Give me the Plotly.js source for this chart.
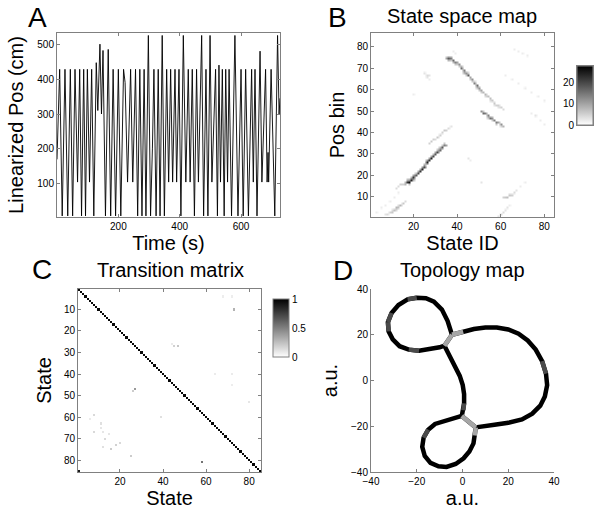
<!DOCTYPE html>
<html><head><meta charset="utf-8">
<script src="https://cdn.plot.ly/plotly-3.0.1.min.js"></script>
<style>html,body{margin:0;padding:0;background:#fff}#chart{width:600px;height:522px}</style>
</head><body><div id="chart"></div>
<script>
// ---------- Panel A: linearized position turning points ----------
const timeTurn = [0,8.7,17,26,35,43.5,51,58.7,67,74,80,87,93,99,106,113,120,128,133,140,145,150,158,167,175,183,191,200,208,217,222,230,240,247,256,263,270,277,284,290,297.8,305,311,316,323,330,336,343,350,357.5,364,370.5,377,384.7,390,397.7,404,411.8,420,428,434,441,448,455,461,471.6,478,485.7,492,499,505,517,523,528,533,539,545,550,556,561,569,580,590,600,607,615,624,634.5,640,645.5,652,662,668,680,685,688,690,698,710,719,724,727];
const posTurn = [170,428,8,428,8,428,8,428,105,428,8,428,8,428,105,428,8,447,310,500,300,482,8,485,8,428,8,428,8,428,390,105,428,105,428,8,428,8,428,8,525,8,200,428,8,428,8,525,8,428,105,428,105,428,105,428,8,525,105,428,105,428,8,428,105,525,8,428,8,525,105,428,8,440,105,428,8,428,105,428,8,525,8,428,8,428,8,428,105,428,8,480,105,428,105,190,105,428,8,525,300,345];

// ---------- Panel B: state space map streaks [state, posBin, count] ----------
const nStatesB = 84, nPosB = 86;
const streakLow = [[16,16,8],[17,17,22],[18,17,26],[19,18,24],[20,19,22],[21,20,18],[22,21,20],[23,22,22],[24,23,24],[25,24,20],[26,26,25],[27,27,22],[28,28,24],[29,29,20],[30,30,18],[31,31,20],[32,32,16],[33,33,18],[34,34,14],[35,34,10],
  [17,18,10],[19,19,8],[21,21,8],[23,23,10],[25,25,12],[27,28,10],[29,30,8],[31,32,8],[33,34,6],[12,14,4],[13,15,4],[14,16,5],[15,16,5],
  [18,18,12],[20,20,10],[22,22,10],[24,24,12],[26,27,12],[28,29,10],[30,31,10],[32,33,8],[34,35,6],[16,17,8],[18,16,6],[20,18,8]];
const streakParallel = [[27,35,5],[28,36,6],[29,37,5],[30,37,4],[31,38,6],[32,39,5],[33,40,5],[34,41,6],[35,41,5],[36,42,4],[37,43,3]];
const streakHigh = [[35,75,10],[36,75,18],[37,75,14],[38,74,16],[39,73,14],[40,73,10],[41,72,12],[42,70,16],[43,69,14],[44,68,12],[45,67,18],[46,66,10],[47,65,12],[48,63,14],[49,62,16],[50,61,12],[51,60,10],[52,59,8],[53,58,8],[54,57,7],[55,56,7],[56,55,6],[57,54,6],[58,53,5],[59,53,5],[60,52,5],[61,51,4],
  [36,74,8],[37,74,6],[39,72,6],[41,71,6],[43,68,8],[44,67,6],[45,68,6],[46,65,6],[48,64,5],[49,61,6],[50,60,6],[40,72,6],
  [38,73,8],[42,71,8],[47,64,6],[51,59,5],[53,57,4],[55,55,4],[57,53,3],[59,52,3]];
const streakMid = [[51,50,12],[52,49,16],[53,49,14],[54,48,14],[55,47,16],[56,47,12],[57,46,14],[58,45,14],[59,45,10],[60,44,12],[61,43,8],
  [52,50,6],[54,47,6],[56,46,6],[58,44,6],[60,43,5]];
const patchLowLeft = [[7,2,3],[8,2,4],[9,3,5],[10,3,6],[11,4,7],[12,5,8],[13,5,7],[14,6,8],[15,7,6],[16,8,4],[10,4,4],[12,4,4],[13,6,4]];
const patchLowRight = [[61,10,5],[62,10,6],[63,10,7],[64,11,6],[65,11,5],[66,12,4],[67,13,3],[69,15,2],[71,17,2],[59,1,3],[60,2,4],[61,3,4],[62,4,3],[63,5,3],[64,6,2]];
const faintB = [[38,78,2],[39,77,2],[66,79,2],[68,78,2],[70,77,2],[72,76,2],[62,67,2],[65,65,2],[68,63,2],[71,61,2],[74,59,2],[77,57,2],[80,55,2],[74,49,2],[76,48,3],[78,46,2],[80,44,2],[45,28,3],[46,27,2],[51,17,3],[25,68,3],[26,67,4],[27,67,3],[26,66,3],[27,65,2],[20,58,2],[3,3,2],[5,5,2],[7,6,2],[9,8,2],[11,10,2],[13,12,2]];
const cmaxB = 28;
const cbarTicksB = [0,10,20];

// ---------- Panel C: transition matrix ----------
const nStatesC = 85;
const selfProb = [0.97,0.98,0.96,0.97,0.98,0.97,0.96,0.98,0.97,0.97,
 0.98,0.96,0.97,0.98,0.97,0.96,0.97,0.98,0.97,0.96,
 0.97,0.98,0.97,0.96,0.98,0.97,0.97,0.96,0.98,0.97,
 0.97,0.98,0.96,0.97,0.98,0.97,0.96,0.97,0.98,0.97,
 0.96,0.97,0.98,0.97,0.96,0.97,0.97,0.98,0.96,0.97,
 0.98,0.97,0.96,0.97,0.98,0.97,0.96,0.97,0.98,0.97,
 0.97,0.96,0.98,0.97,0.97,0.96,0.98,0.97,0.96,0.97,
 0.98,0.97,0.96,0.97,0.98,0.97,0.97,0.96,0.98,0.97,
 0.97,0.98,0.96,0.97,0.98];
// [toState(col), fromState(row), prob]
const offDiag = [[45,27,0.18],[47,27,0.22],[44,26,0.08],[73,10,0.3],[68,4,0.07],[72,4,0.07],[27,47,0.4],[26,48,0.2],[58,81,0.55],[25,78,0.2],[39,60,0.12],[64,40,0.08],[72,40,0.08],[72,45,0.07],[80,53,0.1],[8,59,0.15],[6,61,0.08],[11,63,0.12],[11,65,0.1],[8,67,0.15],[12,67,0.1],[15,68,0.1],[13,70,0.15],[18,73,0.18],[20,72,0.15],[16,75,0.2],[12,74,0.12],[1,85,0.9]];

// ---------- Panel D: topology map branches (shade per segment: 0 black, 1 dark gray, 2 light gray) ----------
const topLoopX = [-4.6,-6.5,-9,-12.5,-16,-20,-24,-28,-31,-32.6,-32.3,-30.5,-27.5,-23.5,-19,-14,-10,-7.9];
const topLoopY = [20.0,26,31,34.5,36,36.2,35.5,33,29.5,25.5,21.5,18,15,13.5,13,13.6,14.5,15.2];
const topLoopShade = [0,0,0,0,0,1,0,0,1,1,0,0,0,1,0,0,0];
const middleX = [-7.9,-5.8,-3.3,-1.2,0.1,0.7,0.7,0.4,-0.3];
const middleY = [15.2,11,6,2,-2,-6,-10,-13,-15.5];
const middleShade = [0,0,0,0,0,0,1,0];
const rightLoopX = [-4.6,0.3,5,10,15,20,24.5,28.5,32,34.8,36.5,37,36,34,30.5,26,20,14,9,5.8];
const rightLoopY = [20,21.3,22.5,23.2,23.2,22.3,20.5,17.5,13.5,8.5,3,-2,-7,-11,-14.5,-17,-18.5,-19.3,-19.8,-20.5];
const rightLoopShade = [2,0,0,0,0,0,0,0,0,1,0,0,0,0,0,0,0,0,0];
const bottomLoopX = [-0.3,-4,-8,-12,-15,-17,-17.6,-16.5,-14,-10.5,-7,-3,0.5,3,4.8,5.4,5.8];
const bottomLoopY = [-15.5,-16.5,-17.5,-19,-21.5,-25,-29,-33,-36,-37.5,-37.8,-36.5,-34,-31,-27.5,-24,-20.5];
const bottomLoopShade = [0,0,0,0,1,0,0,0,0,0,0,0,0,0,0,2];
const linkUpperX = [-4.6,-7.9], linkUpperY = [20,15.2], linkUpperShade = [2];
const linkLowerX = [-0.3,5.8], linkLowerY = [-15.5,-20.5], linkLowerShade = [2];

// ---------- build ----------
const FONT = 'Liberation Sans, Arial, Helvetica, sans-serif';
const shadeColors = ['#000000','#4a4a4a','#a6a6a6'];
const gray = '#808080';

const traces = [];
traces.push({type:'scatter', mode:'lines', x:timeTurn, y:posTurn, xaxis:'x', yaxis:'y',
  line:{color:'#000', width:0.9}, hoverinfo:'skip', showlegend:false});

// heatmap B
const statesB = Array.from({length:nStatesB}, (_,i)=>i+1);
const posB = Array.from({length:nPosB}, (_,i)=>i+1);
const zB = posB.map(()=>statesB.map(()=>0));
[streakLow, streakParallel, streakHigh, streakMid, patchLowLeft, patchLowRight, faintB].forEach(arr=>{
  arr.forEach(([s,p,v])=>{ if (zB[p-1][s-1] < v) zB[p-1][s-1] = v; });
});
const grayScale = [[0,'#ffffff'],[1,'#000000']];
traces.push({type:'heatmap', x:statesB, y:posB, z:zB, xaxis:'x2', yaxis:'y2', colorscale:grayScale, zmin:0, zmax:cmaxB,
  zsmooth:'best', hoverinfo:'skip',
  colorbar:{x:577/600, xanchor:'left', xpad:0, ypad:0, y:1-95.5/522, yanchor:'middle', len:59, lenmode:'pixels',
    thickness:16, thicknessmode:'pixels', outlinecolor:gray, outlinewidth:1, showticklabels:false, ticks:''}});
traces.push({type:'scatter', x:[null], y:[null], xaxis:'x5', yaxis:'y5', hoverinfo:'skip', showlegend:false});

// heatmap C
const statesC = Array.from({length:nStatesC}, (_,i)=>i+1);
const zC = statesC.map(()=>statesC.map(()=>0));
selfProb.forEach((v,i)=>{ zC[i][i] = v; });
offDiag.forEach(([c,r,v])=>{ zC[r-1][c-1] = v; });
traces.push({type:'heatmap', x:statesC, y:statesC, z:zC, xaxis:'x3', yaxis:'y3', colorscale:grayScale, zmin:0, zmax:1,
  hoverinfo:'skip',
  colorbar:{x:273/600, xanchor:'left', xpad:0, ypad:0, y:1-328/522, yanchor:'middle', len:58, lenmode:'pixels',
    thickness:16, thicknessmode:'pixels', outlinecolor:gray, outlinewidth:1, tickvals:[0,0.5,1], ticktext:['0','0.5','1'],
    ticks:'', tickfont:{size:10, color:'#000', family:FONT}}});

// topology D
const branches = [[topLoopX,topLoopY,topLoopShade],[middleX,middleY,middleShade],[rightLoopX,rightLoopY,rightLoopShade],
  [bottomLoopX,bottomLoopY,bottomLoopShade],[linkUpperX,linkUpperY,linkUpperShade],[linkLowerX,linkLowerY,linkLowerShade]];
branches.forEach(([bx,by])=>{
  traces.push({type:'scatter', mode:'lines', x:bx, y:by, xaxis:'x4', yaxis:'y4', line:{color:'#000', width:4.5},
    hoverinfo:'skip', showlegend:false});
});
branches.forEach(([bx,by,bs])=>{
  bs.forEach((s,i)=>{
    if (s===0) return;
    traces.push({type:'scatter', mode:'lines', x:[bx[i],bx[i+1]], y:[by[i],by[i+1]], xaxis:'x4', yaxis:'y4',
      line:{color:shadeColors[s], width:4.5}, hoverinfo:'skip', showlegend:false});
  });
});

function ax(o){
  return Object.assign({showline:true, linecolor:gray, linewidth:1, mirror:'ticks', ticks:'inside', ticklen:3,
    tickcolor:gray, showgrid:false, zeroline:false, tickfont:{size:10, color:'#000', family:FONT}, fixedrange:true}, o);
}
const tf = {size:20, color:'#000', family:FONT};
const yA = [1-217/522, 1-33/522], yC = [1-472/522, 1-289/522];
const xA = [57/600, 280/600], xB = [371/600, 554/600], xC = [78/600, 261/600];

const layout = {
  width:600, height:522, margin:{l:0,r:0,t:0,b:0}, paper_bgcolor:'#fff', plot_bgcolor:'#fff', showlegend:false,
  font:{family:FONT, color:'#000'},
  xaxis: ax({domain:xA, anchor:'y', range:[0,727], tickvals:[200,400,600], title:{text:'Time (s)', font:tf, standoff:4}}),
  yaxis: ax({domain:yA, anchor:'x', range:[5,532], tickvals:[100,200,300,400,500], title:{text:'Linearized Pos (cm)', font:tf, standoff:8}}),
  xaxis2: ax({domain:xB, anchor:'y2', range:[0.5,84.5], tickvals:[20,40,60,80], title:{text:'State ID', font:tf, standoff:4}}),
  yaxis2: ax({domain:yA, anchor:'x2', range:[0.5,86.5], tickvals:[10,20,30,40,50,60,70,80], title:{text:'Pos bin', font:tf, standoff:6}}),
  xaxis3: ax({domain:xC, anchor:'y3', range:[0.5,85.5], tickvals:[20,40,60,80], title:{text:'State', font:tf, standoff:4}}),
  yaxis3: ax({domain:yC, anchor:'x3', range:[85.5,0.5], tickvals:[10,20,30,40,50,60,70,80], title:{text:'State', font:tf, standoff:6}}),
  xaxis4: ax({domain:xB, anchor:'y4', range:[-40,40], tickvals:[-40,-20,0,20,40], mirror:false, title:{text:'a.u.', font:tf, standoff:4}}),
  yaxis4: ax({domain:yC, anchor:'x4', range:[-40,40], tickvals:[-40,-20,0,20,40], mirror:false, title:{text:'a.u.', font:tf, standoff:8}}),
  xaxis5: ax({domain:[577/600, 593/600], anchor:'y5', range:[0,1], showticklabels:false, ticks:'', mirror:true}),
  yaxis5: ax({domain:[1-125/522, 1-66/522], anchor:'x5', range:[0,cmaxB], tickvals:cbarTicksB, side:'left', ticks:'', mirror:true}),
  annotations: [
    {text:'A', x:37/600, y:1-17/522},
    {text:'B', x:337/600, y:1-17/522},
    {text:'C', x:42/600, y:1-269/522},
    {text:'D', x:343/600, y:1-270/522},
  ].map(a=>Object.assign({xref:'paper', yref:'paper', showarrow:false, xanchor:'center', yanchor:'middle', font:{size:28, color:'#000', family:FONT}}, a))
  .concat([
    {text:'State space map', x:462/600, y:1-16/522},
    {text:'Transition matrix', x:170/600, y:1-270/522},
    {text:'Topology map', x:463/600, y:1-270/522},
  ].map(a=>Object.assign({xref:'paper', yref:'paper', showarrow:false, xanchor:'center', yanchor:'middle', font:tf}, a)))
};

Plotly.newPlot('chart', traces, layout, {staticPlot:true, displayModeBar:false});
</script></body></html>
